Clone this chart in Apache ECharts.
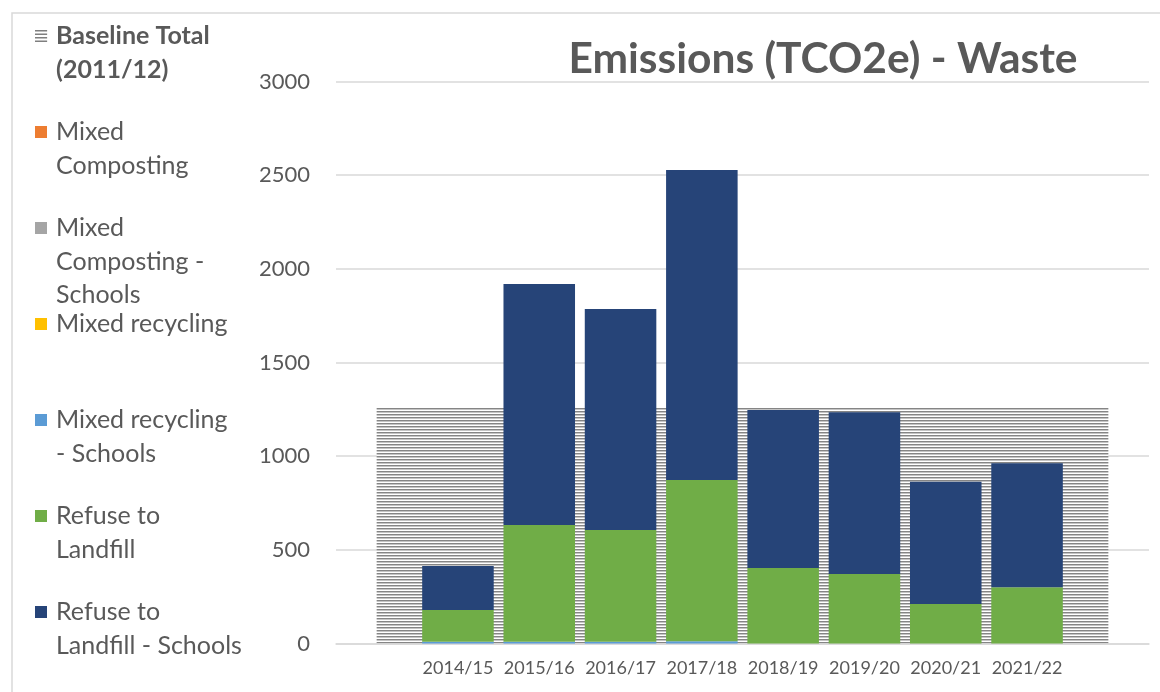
<!DOCTYPE html>
<html>
<head>
<meta charset="utf-8">
<script src="https://cdn.jsdelivr.net/npm/echarts@6/dist/echarts.min.js"></script>
<style>html,body{margin:0;padding:0;background:#fff}#c{width:1160px;height:692px}</style>
</head>
<body>
<div id="c"></div>
<script>
// ---- data ----
const categories = ['', '2014/15', '2015/16', '2016/17', '2017/18', '2018/19', '2019/20', '2020/21', '2021/22', ''];
const baselineTotal = [1257, 1257, 1257, 1257, 1257, 1257, 1257, 1257, 1257, 1257];
const mixedComposting = [null, 0, 0, 0, 0, 0, 0, 0, 0, null];
const mixedCompostingSchools = [null, 0, 0, 0, 0, 0, 0, 0, 0, null];
const mixedRecycling = [null, 0, 0, 0, 0, 0, 0, 0, 0, null];
const mixedRecyclingSchools = [null, 10, 10, 10, 12, 0, 0, 0, 0, null];
const refuseLandfill = [null, 169, 623, 596, 861, 403, 371, 211, 300, null];
const refuseLandfillSchools = [null, 235, 1286, 1180, 1655, 843, 863, 653, 662, null];
const yTicks = [0, 500, 1000, 1500, 2000, 2500, 3000];

const TXT = '#595959';
const FONT = 'Lato';

// hatch pattern for baseline
function hatch() {
  const cv = document.createElement('canvas');
  cv.width = 4; cv.height = 3;
  const g = cv.getContext('2d');
  g.fillStyle = '#ffffff'; g.fillRect(0, 0, 4, 3);
  g.fillStyle = '#858585'; g.fillRect(0, 0, 4, 1);
  g.fillStyle = '#c4c4c4'; g.fillRect(0, 1, 4, 1);
  return { image: cv, repeat: 'repeat' };
}
const hatchPattern = hatch();

const LH = 33.5;
const legendDefs = [
  { name: 'Baseline Total (2011/12)', label: 'Baseline Total\n(2011/12)', y: 36, bold: true },
  { name: 'Mixed Composting', label: 'Mixed\nComposting', y: 132 },
  { name: 'Mixed Composting - Schools', label: 'Mixed\nComposting -\nSchools', y: 228 },
  { name: 'Mixed recycling', label: 'Mixed recycling', y: 324 },
  { name: 'Mixed recycling - Schools', label: 'Mixed recycling\n- Schools', y: 420 },
  { name: 'Refuse to Landfill', label: 'Refuse to\nLandfill', y: 516 },
  { name: 'Refuse to Landfill - Schools', label: 'Refuse to\nLandfill - Schools', y: 612 }
];

const legends = legendDefs.map(d => {
  const n = d.label.split('\n').length;
  const top = d.y - (2 * n - 1) * LH / 2;
  const shown = '\n'.repeat(n - 1) + d.label;
  const item = { name: d.name };
  if (d.bold) {
    item.icon = 'path://M0,0H10V1.2H0Z M0,2.9H10V4.1H0Z M0,5.8H10V7H0Z M0,8.7H10V9.9H0Z';
    item.itemStyle = { color: '#7f7f7f' };
  } else {
    item.icon = 'path://M0,0H12V12H0Z';
  }
  return {
    orient: 'vertical', left: 35, top: top, padding: 0,
    itemWidth: 20, itemHeight: 12, itemGap: 0,
    symbolKeepAspect: true,
    data: [item],
    formatter: () => shown,
    textStyle: {
      color: TXT, fontFamily: FONT, fontSize: 25, lineHeight: LH,
      fontWeight: d.bold ? 'bold' : 'normal'
    }
  };
});

function barSeries(name, data, color) {
  return {
    name, type: 'bar', stack: 'total', data, z: 3,
    barCategoryGap: '12%',
    itemStyle: { color },
    emphasis: { disabled: true }
  };
}

const option = {
  animation: false,
  backgroundColor: '#ffffff',
  title: {
    text: 'Emissions (TCO2e) - Waste',
    left: 818, top: 33, textAlign: 'center',
    textStyle: { color: TXT, fontFamily: FONT, fontSize: 42.5, fontWeight: 'bold' }
  },
  legend: legends,
  grid: { left: 336, right: 11, top: 81.5, bottom: 48.5, containLabel: false },
  xAxis: {
    type: 'category', data: categories, boundaryGap: true,
    axisLine: { lineStyle: { color: '#d9d9d9', width: 1.5 } },
    axisTick: { show: false },
    axisLabel: { color: TXT, fontFamily: FONT, fontSize: 18, margin: 16, interval: 0 }
  },
  yAxis: {
    type: 'value', min: yTicks[0], max: yTicks[yTicks.length - 1], interval: 500,
    axisLine: { show: false }, axisTick: { show: false },
    axisLabel: { color: TXT, fontFamily: FONT, fontSize: 22, margin: 26, formatter: v => String(v) },
    splitLine: { lineStyle: { color: '#d9d9d9', width: 1.5 } }
  },
  graphic: [{
    type: 'rect', silent: true, z: -10,
    shape: { x: 12, y: 13, width: 1300, height: 1000 },
    style: { fill: null, stroke: '#d9d9d9', lineWidth: 1.5 }
  }],
  series: [
    {
      name: 'Baseline Total (2011/12)', type: 'line', data: baselineTotal, z: 1,
      symbol: 'none', lineStyle: { width: 0 },
      itemStyle: { color: '#7f7f7f' },
      areaStyle: { color: hatchPattern, opacity: 1 },
      emphasis: { disabled: true }
    },
    barSeries('Mixed Composting', mixedComposting, '#ED7D31'),
    barSeries('Mixed Composting - Schools', mixedCompostingSchools, '#A5A5A5'),
    barSeries('Mixed recycling', mixedRecycling, '#FFC000'),
    barSeries('Mixed recycling - Schools', mixedRecyclingSchools, '#5B9BD5'),
    barSeries('Refuse to Landfill', refuseLandfill, '#70AD47'),
    barSeries('Refuse to Landfill - Schools', refuseLandfillSchools, '#264478')
  ]
};

const chart = echarts.init(document.getElementById('c'), null, { renderer: 'canvas' });
chart.setOption(option);
</script>
</body>
</html>
